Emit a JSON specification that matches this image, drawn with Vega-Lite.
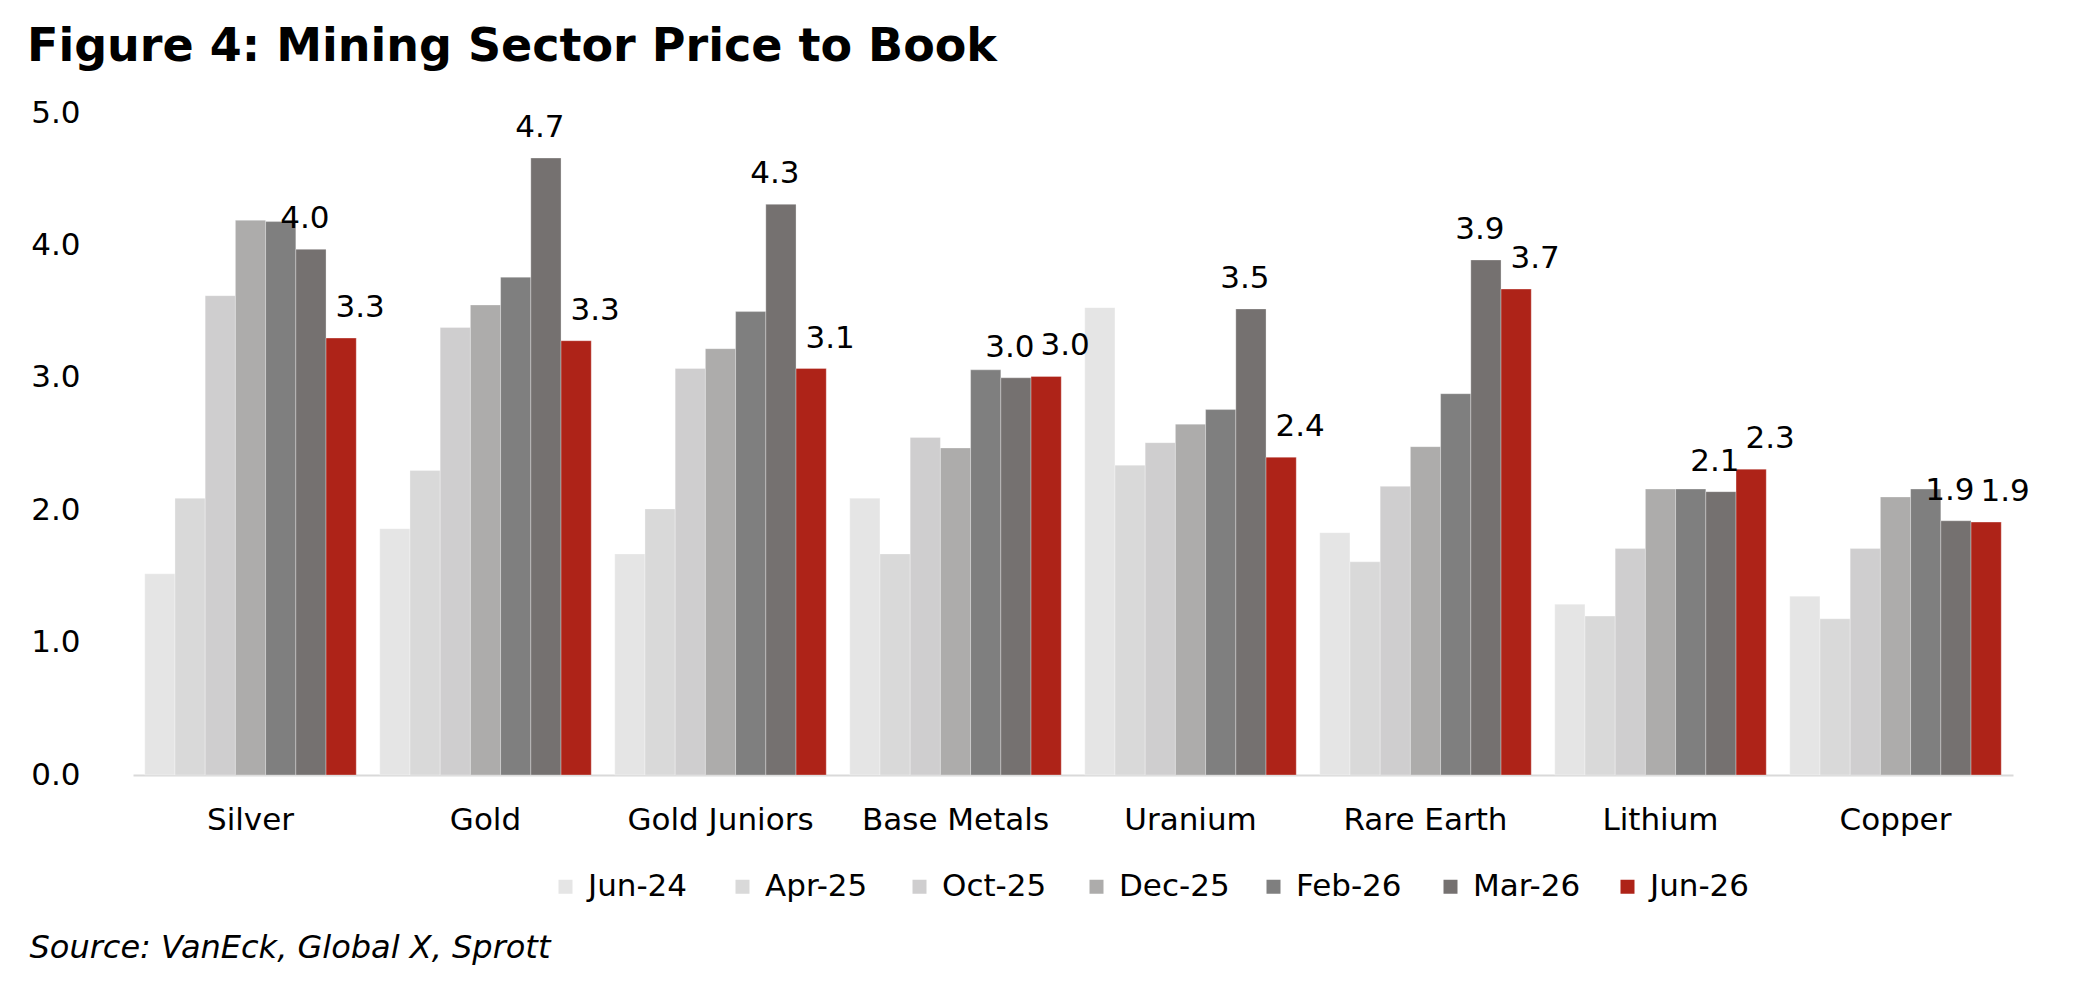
{
  "$schema": "https://vega.github.io/schema/vega-lite/v6.json",
  "width": 1880,
  "height": 662,
  "autosize": {"type": "none"},
  "padding": {"left": 133, "top": 113, "right": 69, "bottom": 227},
  "background": "white",
  "title": {
    "text": "Figure 4: Mining Sector Price to Book",
    "anchor": "start",
    "frame": "group",
    "font": "DejaVu Sans",
    "fontSize": 46,
    "fontWeight": "bold",
    "color": "black",
    "dx": -106,
    "offset": 26
  },
  "data": {
    "values": [
      {"sector": "Silver", "Jun-24": 1.52, "Apr-25": 2.09, "Oct-25": 3.62, "Dec-25": 4.19, "Feb-26": 4.18, "Mar-26": 3.97, "Jun-26": 3.30},
      {"sector": "Gold", "Jun-24": 1.86, "Apr-25": 2.30, "Oct-25": 3.38, "Dec-25": 3.55, "Feb-26": 3.76, "Mar-26": 4.66, "Jun-26": 3.28},
      {"sector": "Gold Juniors", "Jun-24": 1.67, "Apr-25": 2.01, "Oct-25": 3.07, "Dec-25": 3.22, "Feb-26": 3.50, "Mar-26": 4.31, "Jun-26": 3.07},
      {"sector": "Base Metals", "Jun-24": 2.09, "Apr-25": 1.67, "Oct-25": 2.55, "Dec-25": 2.47, "Feb-26": 3.06, "Mar-26": 3.00, "Jun-26": 3.01},
      {"sector": "Uranium", "Jun-24": 3.53, "Apr-25": 2.34, "Oct-25": 2.51, "Dec-25": 2.65, "Feb-26": 2.76, "Mar-26": 3.52, "Jun-26": 2.40},
      {"sector": "Rare Earth", "Jun-24": 1.83, "Apr-25": 1.61, "Oct-25": 2.18, "Dec-25": 2.48, "Feb-26": 2.88, "Mar-26": 3.89, "Jun-26": 3.67},
      {"sector": "Lithium", "Jun-24": 1.29, "Apr-25": 1.20, "Oct-25": 1.71, "Dec-25": 2.16, "Feb-26": 2.16, "Mar-26": 2.14, "Jun-26": 2.31},
      {"sector": "Copper", "Jun-24": 1.35, "Apr-25": 1.18, "Oct-25": 1.71, "Dec-25": 2.10, "Feb-26": 2.16, "Mar-26": 1.92, "Jun-26": 1.91}
    ]
  },
  "transform": [
    {"fold": ["Jun-24", "Apr-25", "Oct-25", "Dec-25", "Feb-26", "Mar-26", "Jun-26"], "as": ["period", "pb"]}
  ],
  "encoding": {
    "x": {
      "field": "sector",
      "type": "nominal",
      "sort": null,
      "scale": {"paddingInner": 0.1, "paddingOuter": 0.05},
      "axis": {
        "title": "Source: VanEck, Global X, Sprott",
        "titleFont": "DejaVu Sans",
        "titleFontSize": 32,
        "titleFontStyle": "italic",
        "titleFontWeight": "normal",
        "titleColor": "black",
        "titleAnchor": "start",
        "titleAlign": "left",
        "titleBaseline": "alphabetic",
        "titleX": -104,
        "titleY": 182,
        "labelAngle": 0,
        "labelFont": "DejaVu Sans",
        "labelFontSize": 31,
        "labelColor": "black",
        "labelPadding": 30,
        "labelLimit": 0,
        "ticks": false,
        "domainColor": "#d9d9d9",
        "domainWidth": 2
      }
    },
    "xOffset": {
      "field": "period",
      "type": "nominal",
      "scale": {"domain": ["Jun-24", "Apr-25", "Oct-25", "Dec-25", "Feb-26", "Mar-26", "Jun-26"], "paddingInner": 0, "paddingOuter": 0}
    },
    "y": {
      "field": "pb",
      "type": "quantitative",
      "scale": {"domain": [0, 5], "nice": false},
      "axis": {
        "title": null,
        "values": [0, 1, 2, 3, 4, 5],
        "format": ".1f",
        "domain": false,
        "ticks": false,
        "grid": false,
        "labelFont": "DejaVu Sans",
        "labelFontSize": 31,
        "labelColor": "black",
        "labelPadding": 53
      }
    }
  },
  "layer": [
    {
      "mark": {"type": "bar", "stroke": "#ffffff", "strokeWidth": 1, "strokeOpacity": 0.3},
      "encoding": {
        "color": {
          "field": "period",
          "type": "nominal",
          "scale": {
            "domain": ["Jun-24", "Apr-25", "Oct-25", "Dec-25", "Feb-26", "Mar-26", "Jun-26"],
            "range": ["#e5e5e5", "#d9d9d9", "#cfcecf", "#adacab", "#7f7f7f", "#757170", "#ae2318"]
          },
          "legend": {
            "title": null,
            "orient": "none",
            "direction": "horizontal",
            "legendX": 417,
            "legendY": 758,
            "symbolType": "square",
            "symbolSize": 196,
            "symbolStrokeWidth": 0,
            "labelFont": "DejaVu Sans",
            "labelFontSize": 31,
            "labelColor": "black",
            "labelOffset": 7,
            "columnPadding": 28,
            "gridAlign": "all"
          }
        }
      }
    },
    {
      "transform": [{"filter": "datum.period === 'Mar-26'"}],
      "mark": {"type": "text", "baseline": "alphabetic", "dy": -21, "dx": -6, "font": "DejaVu Sans", "fontSize": 31, "color": "black"},
      "encoding": {"text": {"field": "pb", "type": "quantitative", "format": ".1f"}}
    },
    {
      "transform": [{"filter": "datum.period === 'Jun-26'"}],
      "mark": {"type": "text", "baseline": "alphabetic", "dy": -21, "dx": 19, "font": "DejaVu Sans", "fontSize": 31, "color": "black"},
      "encoding": {"text": {"field": "pb", "type": "quantitative", "format": ".1f"}}
    }
  ],
  "config": {"view": {"stroke": null}}
}
